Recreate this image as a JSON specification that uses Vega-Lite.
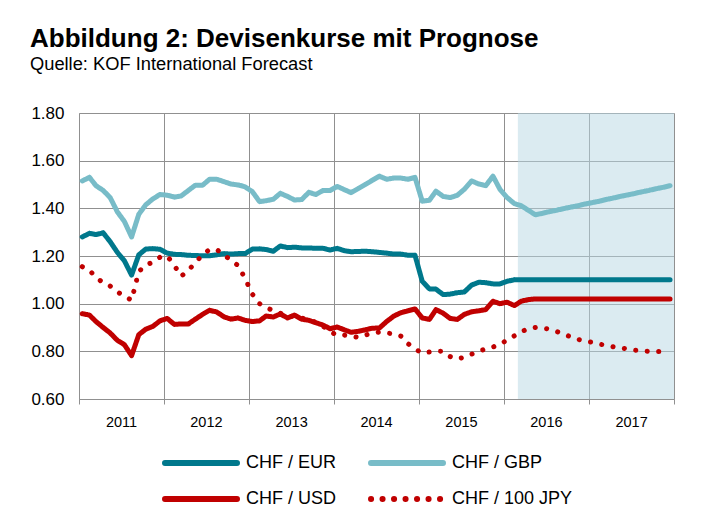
{
  "$schema": "https://vega.github.io/schema/vega-lite/v6.json",
  "width": 595,
  "height": 286,
  "autosize": {"type": "none"},
  "padding": {"left": 79, "top": 113, "right": 35, "bottom": 128},
  "background": "white",
  "config": {
    "view": {"stroke": null},
    "font": "Liberation Sans",
    "axisX": {
      "title": null, "grid": true,
      "tickCount": {"interval": "year", "step": 1},
      "labelExpr": "utcyear(datum.value) < 2018 ? utcFormat(datum.value, '%Y') : ''",
      "labelOffset": 42, "labelAngle": 0, "labelFontSize": 14.5, "labelFont": "Liberation Sans",
      "labelFontWeight": "normal",
      "labelColor": "#000000", "labelPadding": 11, "labelFlush": false, "labelOverlap": false,
      "tickSize": 5, "tickColor": "#909090", "gridColor": "#909090", "domainColor": "#909090"
    }
  },
  "title": {
    "text": "Abbildung 2: Devisenkurse mit Prognose",
    "subtitle": "Quelle: KOF International Forecast",
    "anchor": "start",
    "frame": "group",
    "dx": -49,
    "offset": 31,
    "font": "Liberation Sans",
    "fontSize": 26,
    "fontWeight": "bold",
    "color": "#000000",
    "subtitleFont": "Liberation Sans",
    "subtitleFontSize": 18.3,
    "subtitleColor": "#000000",
    "subtitlePadding": 4
  },
  "datasets": {
    "fc": [{"start": "2016-03-01", "end": "2018-01-01"}],
    "rates": [
      {"d": "2011-01-15", "CHF / EUR": 1.280, "CHF / GBP": 1.515, "CHF / USD": 0.958, "CHF / 100 JPY": 1.155},
      {"d": "2011-02-15", "CHF / EUR": 1.295, "CHF / GBP": 1.530, "CHF / USD": 0.952, "CHF / 100 JPY": 1.140},
      {"d": "2011-03-15", "CHF / EUR": 1.290, "CHF / GBP": 1.495, "CHF / USD": 0.925, "CHF / 100 JPY": 1.110},
      {"d": "2011-04-15", "CHF / EUR": 1.297, "CHF / GBP": 1.475, "CHF / USD": 0.900, "CHF / 100 JPY": 1.088},
      {"d": "2011-05-15", "CHF / EUR": 1.260, "CHF / GBP": 1.445, "CHF / USD": 0.877, "CHF / 100 JPY": 1.074},
      {"d": "2011-06-15", "CHF / EUR": 1.215, "CHF / GBP": 1.385, "CHF / USD": 0.846, "CHF / 100 JPY": 1.050},
      {"d": "2011-07-15", "CHF / EUR": 1.180, "CHF / GBP": 1.345, "CHF / USD": 0.828, "CHF / 100 JPY": 1.030},
      {"d": "2011-08-15", "CHF / EUR": 1.120, "CHF / GBP": 1.280, "CHF / USD": 0.782, "CHF / 100 JPY": 1.015},
      {"d": "2011-09-15", "CHF / EUR": 1.205, "CHF / GBP": 1.375, "CHF / USD": 0.870, "CHF / 100 JPY": 1.135},
      {"d": "2011-10-15", "CHF / EUR": 1.229, "CHF / GBP": 1.415, "CHF / USD": 0.893, "CHF / 100 JPY": 1.162},
      {"d": "2011-11-15", "CHF / EUR": 1.231, "CHF / GBP": 1.440, "CHF / USD": 0.905, "CHF / 100 JPY": 1.174},
      {"d": "2011-12-15", "CHF / EUR": 1.228, "CHF / GBP": 1.458, "CHF / USD": 0.928, "CHF / 100 JPY": 1.195},
      {"d": "2012-01-15", "CHF / EUR": 1.212, "CHF / GBP": 1.455, "CHF / USD": 0.938, "CHF / 100 JPY": 1.200},
      {"d": "2012-02-15", "CHF / EUR": 1.207, "CHF / GBP": 1.447, "CHF / USD": 0.913, "CHF / 100 JPY": 1.160},
      {"d": "2012-03-15", "CHF / EUR": 1.206, "CHF / GBP": 1.452, "CHF / USD": 0.915, "CHF / 100 JPY": 1.115},
      {"d": "2012-04-15", "CHF / EUR": 1.203, "CHF / GBP": 1.475, "CHF / USD": 0.915, "CHF / 100 JPY": 1.140},
      {"d": "2012-05-15", "CHF / EUR": 1.202, "CHF / GBP": 1.497, "CHF / USD": 0.935, "CHF / 100 JPY": 1.172},
      {"d": "2012-06-15", "CHF / EUR": 1.201, "CHF / GBP": 1.497, "CHF / USD": 0.955, "CHF / 100 JPY": 1.205},
      {"d": "2012-07-15", "CHF / EUR": 1.201, "CHF / GBP": 1.522, "CHF / USD": 0.972, "CHF / 100 JPY": 1.227},
      {"d": "2012-08-15", "CHF / EUR": 1.205, "CHF / GBP": 1.522, "CHF / USD": 0.965, "CHF / 100 JPY": 1.227},
      {"d": "2012-09-15", "CHF / EUR": 1.210, "CHF / GBP": 1.512, "CHF / USD": 0.945, "CHF / 100 JPY": 1.205},
      {"d": "2012-10-15", "CHF / EUR": 1.208, "CHF / GBP": 1.502, "CHF / USD": 0.935, "CHF / 100 JPY": 1.182},
      {"d": "2012-11-15", "CHF / EUR": 1.210, "CHF / GBP": 1.498, "CHF / USD": 0.940, "CHF / 100 JPY": 1.160},
      {"d": "2012-12-15", "CHF / EUR": 1.210, "CHF / GBP": 1.490, "CHF / USD": 0.930, "CHF / 100 JPY": 1.105},
      {"d": "2013-01-15", "CHF / EUR": 1.229, "CHF / GBP": 1.470, "CHF / USD": 0.925, "CHF / 100 JPY": 1.040},
      {"d": "2013-02-15", "CHF / EUR": 1.230, "CHF / GBP": 1.428, "CHF / USD": 0.928, "CHF / 100 JPY": 1.000},
      {"d": "2013-03-15", "CHF / EUR": 1.227, "CHF / GBP": 1.432, "CHF / USD": 0.948, "CHF / 100 JPY": 0.985},
      {"d": "2013-04-15", "CHF / EUR": 1.220, "CHF / GBP": 1.438, "CHF / USD": 0.944, "CHF / 100 JPY": 0.970},
      {"d": "2013-05-15", "CHF / EUR": 1.242, "CHF / GBP": 1.463, "CHF / USD": 0.957, "CHF / 100 JPY": 0.960},
      {"d": "2013-06-15", "CHF / EUR": 1.235, "CHF / GBP": 1.450, "CHF / USD": 0.940, "CHF / 100 JPY": 0.950},
      {"d": "2013-07-15", "CHF / EUR": 1.237, "CHF / GBP": 1.435, "CHF / USD": 0.952, "CHF / 100 JPY": 0.945},
      {"d": "2013-08-15", "CHF / EUR": 1.234, "CHF / GBP": 1.437, "CHF / USD": 0.935, "CHF / 100 JPY": 0.940},
      {"d": "2013-09-15", "CHF / EUR": 1.234, "CHF / GBP": 1.467, "CHF / USD": 0.930, "CHF / 100 JPY": 0.930},
      {"d": "2013-10-15", "CHF / EUR": 1.232, "CHF / GBP": 1.458, "CHF / USD": 0.920, "CHF / 100 JPY": 0.922},
      {"d": "2013-11-15", "CHF / EUR": 1.232, "CHF / GBP": 1.475, "CHF / USD": 0.910, "CHF / 100 JPY": 0.905},
      {"d": "2013-12-15", "CHF / EUR": 1.225, "CHF / GBP": 1.475, "CHF / USD": 0.895, "CHF / 100 JPY": 0.883},
      {"d": "2014-01-15", "CHF / EUR": 1.232, "CHF / GBP": 1.492, "CHF / USD": 0.902, "CHF / 100 JPY": 0.867},
      {"d": "2014-02-15", "CHF / EUR": 1.222, "CHF / GBP": 1.478, "CHF / USD": 0.890, "CHF / 100 JPY": 0.868},
      {"d": "2014-03-15", "CHF / EUR": 1.218, "CHF / GBP": 1.466, "CHF / USD": 0.880, "CHF / 100 JPY": 0.865},
      {"d": "2014-04-15", "CHF / EUR": 1.219, "CHF / GBP": 1.483, "CHF / USD": 0.884, "CHF / 100 JPY": 0.858},
      {"d": "2014-05-15", "CHF / EUR": 1.220, "CHF / GBP": 1.500, "CHF / USD": 0.890, "CHF / 100 JPY": 0.868},
      {"d": "2014-06-15", "CHF / EUR": 1.218, "CHF / GBP": 1.518, "CHF / USD": 0.897, "CHF / 100 JPY": 0.876},
      {"d": "2014-07-15", "CHF / EUR": 1.215, "CHF / GBP": 1.535, "CHF / USD": 0.898, "CHF / 100 JPY": 0.881},
      {"d": "2014-08-15", "CHF / EUR": 1.212, "CHF / GBP": 1.522, "CHF / USD": 0.925, "CHF / 100 JPY": 0.877},
      {"d": "2014-09-15", "CHF / EUR": 1.208, "CHF / GBP": 1.527, "CHF / USD": 0.948, "CHF / 100 JPY": 0.873},
      {"d": "2014-10-15", "CHF / EUR": 1.208, "CHF / GBP": 1.527, "CHF / USD": 0.962, "CHF / 100 JPY": 0.864},
      {"d": "2014-11-15", "CHF / EUR": 1.203, "CHF / GBP": 1.522, "CHF / USD": 0.970, "CHF / 100 JPY": 0.832},
      {"d": "2014-12-15", "CHF / EUR": 1.203, "CHF / GBP": 1.530, "CHF / USD": 0.978, "CHF / 100 JPY": 0.810},
      {"d": "2015-01-15", "CHF / EUR": 1.094, "CHF / GBP": 1.430, "CHF / USD": 0.940, "CHF / 100 JPY": 0.793},
      {"d": "2015-02-15", "CHF / EUR": 1.062, "CHF / GBP": 1.434, "CHF / USD": 0.934, "CHF / 100 JPY": 0.797},
      {"d": "2015-03-15", "CHF / EUR": 1.061, "CHF / GBP": 1.472, "CHF / USD": 0.975, "CHF / 100 JPY": 0.801},
      {"d": "2015-04-15", "CHF / EUR": 1.038, "CHF / GBP": 1.450, "CHF / USD": 0.960, "CHF / 100 JPY": 0.800},
      {"d": "2015-05-15", "CHF / EUR": 1.040, "CHF / GBP": 1.445, "CHF / USD": 0.938, "CHF / 100 JPY": 0.778},
      {"d": "2015-06-15", "CHF / EUR": 1.046, "CHF / GBP": 1.455, "CHF / USD": 0.934, "CHF / 100 JPY": 0.768},
      {"d": "2015-07-15", "CHF / EUR": 1.049, "CHF / GBP": 1.480, "CHF / USD": 0.955, "CHF / 100 JPY": 0.775},
      {"d": "2015-08-15", "CHF / EUR": 1.078, "CHF / GBP": 1.515, "CHF / USD": 0.966, "CHF / 100 JPY": 0.788},
      {"d": "2015-09-15", "CHF / EUR": 1.090, "CHF / GBP": 1.502, "CHF / USD": 0.970, "CHF / 100 JPY": 0.800},
      {"d": "2015-10-15", "CHF / EUR": 1.088, "CHF / GBP": 1.495, "CHF / USD": 0.975, "CHF / 100 JPY": 0.810},
      {"d": "2015-11-15", "CHF / EUR": 1.083, "CHF / GBP": 1.535, "CHF / USD": 1.010, "CHF / 100 JPY": 0.818},
      {"d": "2015-12-15", "CHF / EUR": 1.083, "CHF / GBP": 1.480, "CHF / USD": 1.000, "CHF / 100 JPY": 0.830},
      {"d": "2016-01-15", "CHF / EUR": 1.094, "CHF / GBP": 1.445, "CHF / USD": 1.006, "CHF / 100 JPY": 0.847},
      {"d": "2016-02-15", "CHF / EUR": 1.100, "CHF / GBP": 1.420, "CHF / USD": 0.992, "CHF / 100 JPY": 0.865},
      {"d": "2016-03-15", "CHF / EUR": 1.100, "CHF / GBP": 1.411, "CHF / USD": 1.010, "CHF / 100 JPY": 0.882},
      {"d": "2016-04-15", "CHF / EUR": 1.100, "CHF / GBP": 1.392, "CHF / USD": 1.017, "CHF / 100 JPY": 0.895},
      {"d": "2016-05-15", "CHF / EUR": 1.100, "CHF / GBP": 1.373, "CHF / USD": 1.020, "CHF / 100 JPY": 0.900},
      {"d": "2016-06-15", "CHF / EUR": 1.100, "CHF / GBP": 1.379, "CHF / USD": 1.020, "CHF / 100 JPY": 0.898},
      {"d": "2016-07-15", "CHF / EUR": 1.100, "CHF / GBP": 1.386, "CHF / USD": 1.020, "CHF / 100 JPY": 0.893},
      {"d": "2016-08-15", "CHF / EUR": 1.100, "CHF / GBP": 1.392, "CHF / USD": 1.020, "CHF / 100 JPY": 0.883},
      {"d": "2016-09-15", "CHF / EUR": 1.100, "CHF / GBP": 1.399, "CHF / USD": 1.020, "CHF / 100 JPY": 0.873},
      {"d": "2016-10-15", "CHF / EUR": 1.100, "CHF / GBP": 1.405, "CHF / USD": 1.020, "CHF / 100 JPY": 0.860},
      {"d": "2016-11-15", "CHF / EUR": 1.100, "CHF / GBP": 1.411, "CHF / USD": 1.020, "CHF / 100 JPY": 0.850},
      {"d": "2016-12-15", "CHF / EUR": 1.100, "CHF / GBP": 1.418, "CHF / USD": 1.020, "CHF / 100 JPY": 0.843},
      {"d": "2017-01-15", "CHF / EUR": 1.100, "CHF / GBP": 1.424, "CHF / USD": 1.020, "CHF / 100 JPY": 0.838},
      {"d": "2017-02-15", "CHF / EUR": 1.100, "CHF / GBP": 1.430, "CHF / USD": 1.020, "CHF / 100 JPY": 0.830},
      {"d": "2017-03-15", "CHF / EUR": 1.100, "CHF / GBP": 1.437, "CHF / USD": 1.020, "CHF / 100 JPY": 0.825},
      {"d": "2017-04-15", "CHF / EUR": 1.100, "CHF / GBP": 1.443, "CHF / USD": 1.020, "CHF / 100 JPY": 0.819},
      {"d": "2017-05-15", "CHF / EUR": 1.100, "CHF / GBP": 1.450, "CHF / USD": 1.020, "CHF / 100 JPY": 0.815},
      {"d": "2017-06-15", "CHF / EUR": 1.100, "CHF / GBP": 1.456, "CHF / USD": 1.020, "CHF / 100 JPY": 0.810},
      {"d": "2017-07-15", "CHF / EUR": 1.100, "CHF / GBP": 1.462, "CHF / USD": 1.020, "CHF / 100 JPY": 0.805},
      {"d": "2017-08-15", "CHF / EUR": 1.100, "CHF / GBP": 1.469, "CHF / USD": 1.020, "CHF / 100 JPY": 0.802},
      {"d": "2017-09-15", "CHF / EUR": 1.100, "CHF / GBP": 1.475, "CHF / USD": 1.020, "CHF / 100 JPY": 0.800},
      {"d": "2017-10-15", "CHF / EUR": 1.100, "CHF / GBP": 1.482, "CHF / USD": 1.020, "CHF / 100 JPY": 0.799},
      {"d": "2017-11-15", "CHF / EUR": 1.100, "CHF / GBP": 1.488, "CHF / USD": 1.020, "CHF / 100 JPY": 0.799},
      {"d": "2017-12-15", "CHF / EUR": 1.100, "CHF / GBP": 1.495, "CHF / USD": 1.020, "CHF / 100 JPY": 0.798}
    ]
  },
  "resolve": {"axis": {"x": "shared"}},
  "layer": [
    {
      "data": {"name": "fc"},
      "mark": {"type": "rect", "color": "#b8d7e3", "opacity": 0.5},
      "encoding": {
        "x": {"field": "start", "type": "temporal", "scale": {"type": "utc", "domain": ["2011-01-01", "2018-01-01"]}, "axis": {}},
        "x2": {"field": "end"}
      }
    },
    {
      "data": {"name": "rates"},
      "transform": [{"fold": ["CHF / EUR", "CHF / GBP", "CHF / USD", "CHF / 100 JPY"], "as": ["series", "value"]}],
      "mark": {"type": "line", "strokeWidth": 5, "strokeCap": "round", "strokeJoin": "round"},
      "encoding": {
        "x": {
          "field": "d", "type": "temporal",
          "scale": {"type": "utc", "domain": ["2011-01-01", "2018-01-01"]},
          "axis": {}
        },
        "y": {
          "field": "value", "type": "quantitative",
          "scale": {"domain": [0.6, 1.8]},
          "axis": {
            "title": null, "values": [0.6, 0.8, 1.0, 1.2, 1.4, 1.6, 1.8], "format": ".2f",
            "ticks": false, "labelFontSize": 17, "labelFont": "Liberation Sans", "labelColor": "#000000",
            "labelFontWeight": "normal",
            "labelPadding": 15, "gridColor": "#909090", "domainColor": "#909090"
          }
        },
        "color": {
          "field": "series", "type": "nominal",
          "scale": {"domain": ["CHF / EUR", "CHF / USD", "CHF / GBP", "CHF / 100 JPY"], "range": ["#00788c", "#c00000", "#78bcc8", "#c00000"]},
          "legend": {
            "orient": "none", "legendX": 83, "legendY": 340, "columns": 2, "title": null, "padding": 0,
            "symbolType": "stroke", "symbolSize": 5184, "symbolStrokeWidth": 6, "clipHeight": 20,
            "labelFontSize": 18, "labelFont": "Liberation Sans", "labelColor": "#000000", "labelOffset": 6,
            "columnPadding": 32, "rowPadding": 16,
            "encoding": {"symbols": {"strokeCap": {"value": "round"}}}
          }
        },
        "strokeDash": {
          "field": "series", "type": "nominal",
          "scale": {"domain": ["CHF / EUR", "CHF / USD", "CHF / GBP", "CHF / 100 JPY"], "range": [[1, 0], [1, 0], [1, 0], [0.1, 11.4]]},
          "legend": {
            "orient": "none", "legendX": 83, "legendY": 340, "columns": 2, "title": null, "padding": 0,
            "symbolType": "stroke", "symbolSize": 5184, "symbolStrokeWidth": 6, "clipHeight": 20,
            "labelFontSize": 18, "labelFont": "Liberation Sans", "labelColor": "#000000", "labelOffset": 6,
            "columnPadding": 32, "rowPadding": 16,
            "encoding": {"symbols": {"strokeCap": {"value": "round"}}}
          }
        }
      }
    }
  ]
}
